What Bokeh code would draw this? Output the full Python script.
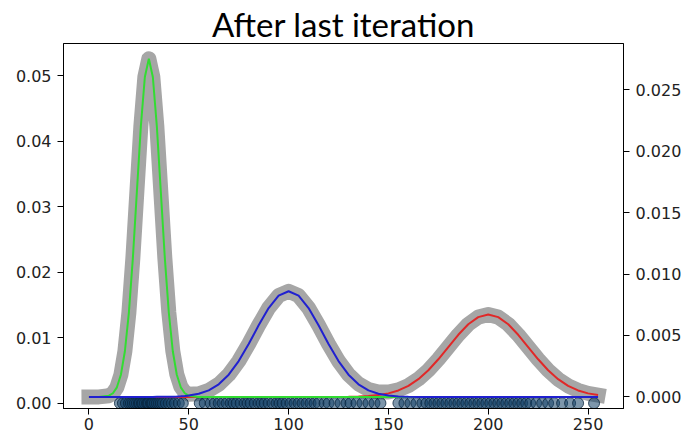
from bokeh.plotting import figure
from bokeh.models import Range1d, LinearAxis, FixedTicker, NumeralTickFormatter, ColumnDataSource
from bokeh.embed import file_html
from bokeh.resources import INLINE

# x positions at which the component curves are drawn
grid_x = [0, 5, 10, 12, 14, 16, 18, 20, 22, 24, 26, 28, 30, 32, 34, 36, 38, 40, 42, 44, 46, 48, 50,
          55, 60, 65, 70, 75, 80, 85, 90, 95, 100, 105, 110, 115, 120, 125, 130, 135, 140, 145, 150,
          155, 160, 165, 170, 175, 180, 185, 190, 195, 200, 205, 210, 215, 220, 225, 230, 235, 240,
          245, 250, 255]

# component 1 (green, around 30)
green_y = [0.0, 0.000005, 0.000106, 0.000305, 0.000786, 0.00181, 0.00372, 0.00686, 0.01131, 0.01668,
           0.02202, 0.02602, 0.0275, 0.02602, 0.02202, 0.01668, 0.01131, 0.00686, 0.00372, 0.00181,
           0.000786, 0.000305, 0.000106,
           0.000005, 0.0, 0.0, 0.0, 0.0, 0.0, 0.0, 0.0, 0.0, 0.0, 0.0, 0.0, 0.0, 0.0, 0.0, 0.0, 0.0,
           0.0, 0.0, 0.0, 0.0, 0.0, 0.0, 0.0, 0.0, 0.0, 0.0, 0.0, 0.0, 0.0, 0.0, 0.0, 0.0, 0.0, 0.0,
           0.0, 0.0, 0.0, 0.0, 0.0, 0.0]

# component 2 (blue, around 100)
blue_y = [0.0, 0.0, 0.0, 0.0, 0.0, 0.0, 0.0, 0.0, 0.0, 0.000001, 0.000002, 0.000004, 0.000006,
          0.000008, 0.00001, 0.000012, 0.000015, 0.000017, 0.000026, 0.000038, 0.000055, 0.00008,
          0.000114,
          0.000259, 0.00054, 0.001033, 0.001813, 0.002917, 0.004304, 0.005827, 0.007233, 0.008236,
          0.0086, 0.008236, 0.007233, 0.005827, 0.004304, 0.002917, 0.001813, 0.001033, 0.00054,
          0.000259, 0.000114, 0.000046, 0.000017, 0.000006, 0.0, 0.0, 0.0, 0.0, 0.0, 0.0, 0.0, 0.0,
          0.0, 0.0, 0.0, 0.0, 0.0, 0.0, 0.0, 0.0, 0.0, 0.0]

# component 3 (red, around 200)
red_y = [0.0, 0.0, 0.0, 0.0, 0.0, 0.0, 0.0, 0.0, 0.0, 0.0, 0.0, 0.0, 0.0, 0.0, 0.0, 0.0, 0.0, 0.0,
         0.0, 0.0, 0.0, 0.0, 0.0,
         0.0, 0.0, 0.0, 0.0, 0.0, 0.0, 0.0, 0.0, 0.0, 0.0, 0.0, 0.0, 0.0, 0.0, 0.000006, 0.000015,
         0.000034, 0.000074, 0.000153, 0.000294, 0.000533, 0.000907, 0.001449, 0.002175, 0.003067,
         0.004064, 0.005057, 0.005913, 0.006494, 0.0067, 0.006494, 0.005913, 0.005057, 0.004064,
         0.003067, 0.002175, 0.001449, 0.000907, 0.000533, 0.000294, 0.000153]

# data points along the bottom
points_x = [15.5, 17, 18.5, 20, 21, 22, 23, 24, 25, 25.5, 26.5, 27, 28, 29, 29.5, 30, 31, 31.5, 32,
            33, 34, 35, 36, 37, 38.5, 40, 41.5, 43, 45, 47,
            55.5, 58, 61, 63, 65, 67, 69, 71, 72.5, 74, 76, 78, 79.5, 81, 83, 85, 86.5, 88, 90, 92,
            94, 95.5, 97, 99, 101, 103, 105, 107, 109, 111, 113, 115, 118, 120, 123, 126, 129, 131,
            134, 137, 140, 143, 146,
            155, 158, 161, 164, 167, 169, 171, 173, 175, 177, 179, 181, 183, 185, 187, 189, 191, 193,
            195, 197, 199, 201, 203, 205, 207, 209, 211, 213, 215, 217, 219, 221, 224, 227, 230,
            233, 237, 241, 245, 253]

left_ticks = [0.0, 0.01, 0.02, 0.03, 0.04, 0.05]
right_ticks = [0.0, 0.005, 0.010, 0.015, 0.020, 0.025]
x_ticks = [0, 50, 100, 150, 200, 250]

mixture_y = [g + b + r for g, b, r in zip(green_y, blue_y, red_y)]

p = figure(width=684, height=436, output_backend="svg", toolbar_location=None,
           x_range=Range1d(-12.75, 267.75), y_range=Range1d(-0.00081, 0.05495),
           min_border_left=63, min_border_right=59, min_border_top=43, min_border_bottom=28,
           title="After last iteration")
p.extra_y_ranges = {"right": Range1d(-0.000936, 0.028743)}

p.title.text_font = "Lato"
p.title.text_font_size = "33px"
p.title.text_font_style = "normal"
p.title.align = "center"
p.title.text_color = "black"
p.title.standoff = 0

p.xgrid.visible = False
p.ygrid.visible = False
p.outline_line_color = "black"
p.outline_line_width = 1
p.background_fill_color = "white"
p.border_fill_color = "white"

def style_axis(ax):
    ax.axis_line_color = "black"
    ax.major_tick_line_color = "black"
    ax.major_tick_out = 6
    ax.major_tick_in = 0
    ax.minor_tick_line_color = None
    ax.major_label_text_font = "DejaVu Sans"
    ax.major_label_text_font_size = "16px"
    ax.major_label_text_color = "#222222"

style_axis(p.xaxis[0])
p.xaxis[0].ticker = FixedTicker(ticks=x_ticks)
p.xaxis[0].major_label_standoff = 3

style_axis(p.yaxis[0])
p.yaxis[0].ticker = FixedTicker(ticks=left_ticks)
p.yaxis[0].formatter = NumeralTickFormatter(format="0.00")
p.yaxis[0].major_label_standoff = 6

raxis = LinearAxis(y_range_name="right")
style_axis(raxis)
raxis.ticker = FixedTicker(ticks=right_ticks)
raxis.formatter = NumeralTickFormatter(format="0.000")
raxis.major_label_standoff = 6
p.add_layout(raxis, "right")

src = ColumnDataSource(dict(x=grid_x, mix=mixture_y, g=green_y, b=blue_y, r=red_y))

p.line("x", "mix", source=src, y_range_name="right", line_width=15, line_color="#a6a6a6",
       line_cap="square", line_join="round")

p.scatter(points_x, [0.0] * len(points_x), size=11, fill_color="#123f66", fill_alpha=0.55,
          line_color="#08233b", line_alpha=0.75)

p.line("x", "r", source=src, y_range_name="right", line_width=2, line_color="#e02828")
p.line("x", "g", source=src, y_range_name="right", line_width=2, line_color="#32dc32")
p.line("x", "b", source=src, y_range_name="right", line_width=2, line_color="#2020d0")

open("out.html", "w").write(file_html(p, INLINE))
